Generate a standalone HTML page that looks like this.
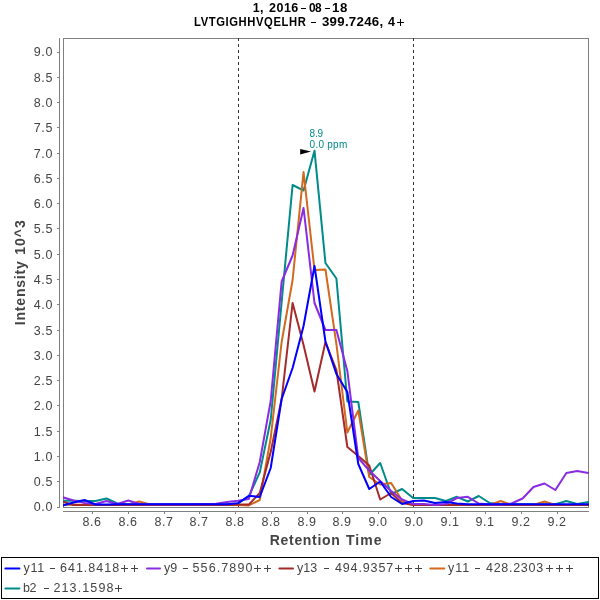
<!DOCTYPE html>
<html><head><meta charset="utf-8"><style>
html,body{margin:0;padding:0;background:#fff;width:600px;height:600px;overflow:hidden;}
svg{display:block;will-change:transform;}
</style></head><body>
<svg width="600" height="600" viewBox="0 0 600 600"><style>text{font-family:"Liberation Sans", sans-serif;}</style><rect x="63.5" y="38.5" width="525" height="469" fill="none" stroke="#808080" stroke-width="1" shape-rendering="crispEdges"/><g stroke="#333" stroke-width="1" stroke-dasharray="3 3" shape-rendering="crispEdges"><line x1="238.5" y1="38" x2="238.5" y2="507"/><line x1="413.5" y1="38" x2="413.5" y2="507"/></g><defs><clipPath id="c"><rect x="63" y="38" width="526" height="470"/></clipPath></defs><g clip-path="url(#c)" fill="none" stroke-width="2" stroke-linejoin="round" stroke-linecap="round"><polyline stroke="#008b8b" points="51.70,500.00 62.65,500.70 73.60,500.70 84.55,501.00 95.50,501.00 106.45,498.50 117.40,503.50 128.35,504.30 139.30,504.30 150.25,504.30 161.20,504.30 172.15,504.30 183.10,504.30 194.05,504.30 205.00,504.30 215.95,504.30 226.90,504.30 237.85,503.50 248.80,496.50 259.75,472.40 270.70,420.00 281.65,302.00 292.60,185.00 303.55,190.50 314.50,150.70 325.45,263.00 336.40,278.50 347.35,401.50 358.30,402.00 369.25,475.00 380.20,463.00 391.15,494.00 402.10,489.00 413.05,498.00 424.00,498.00 434.95,498.00 445.90,501.00 456.85,496.80 467.80,501.50 478.75,496.00 489.70,503.00 500.65,504.30 511.60,504.30 522.55,504.30 533.50,504.30 544.45,504.30 555.40,504.30 566.35,501.00 577.30,504.00 588.25,502.00 599.20,502.00"/><polyline stroke="#d2691e" points="51.70,505.00 62.65,505.00 73.60,504.50 84.55,505.00 95.50,505.00 106.45,505.00 117.40,505.00 128.35,504.50 139.30,501.50 150.25,504.50 161.20,505.00 172.15,505.00 183.10,505.00 194.05,505.00 205.00,505.00 215.95,505.00 226.90,505.00 237.85,505.00 248.80,505.40 259.75,500.00 270.70,438.00 281.65,342.00 292.60,280.00 303.55,172.00 314.50,270.00 325.45,269.50 336.40,344.00 347.35,432.50 358.30,410.50 369.25,477.00 380.20,484.50 391.15,483.00 402.10,500.50 413.05,505.00 424.00,505.00 434.95,505.00 445.90,505.00 456.85,505.00 467.80,505.00 478.75,505.00 489.70,505.00 500.65,501.00 511.60,505.00 522.55,505.00 533.50,505.00 544.45,501.50 555.40,505.00 566.35,505.00 577.30,505.00 588.25,505.00 599.20,505.00"/><polyline stroke="#a52a2a" points="51.70,500.00 62.65,501.70 73.60,505.00 84.55,505.00 95.50,505.00 106.45,505.00 117.40,505.00 128.35,505.00 139.30,505.00 150.25,505.00 161.20,505.00 172.15,505.00 183.10,505.00 194.05,505.00 205.00,505.00 215.95,505.00 226.90,505.00 237.85,504.60 248.80,504.60 259.75,493.00 270.70,452.00 281.65,399.00 292.60,303.00 303.55,345.00 314.50,391.50 325.45,342.00 336.40,370.00 347.35,447.00 358.30,456.00 369.25,465.50 380.20,499.50 391.15,493.00 402.10,503.00 413.05,505.00 424.00,505.00 434.95,505.00 445.90,505.00 456.85,505.00 467.80,505.00 478.75,505.00 489.70,505.00 500.65,505.00 511.60,505.00 522.55,505.00 533.50,505.00 544.45,505.00 555.40,505.00 566.35,505.00 577.30,505.00 588.25,505.00 599.20,505.00"/><polyline stroke="#8a2be2" points="51.70,496.00 62.65,497.30 73.60,500.50 84.55,503.00 95.50,504.00 106.45,501.00 117.40,504.00 128.35,500.50 139.30,504.00 150.25,504.30 161.20,504.30 172.15,504.30 183.10,504.30 194.05,504.30 205.00,504.00 215.95,503.70 226.90,502.00 237.85,500.80 248.80,499.00 259.75,462.00 270.70,401.00 281.65,281.50 292.60,255.50 303.55,208.00 314.50,303.00 325.45,330.00 336.40,330.00 347.35,371.00 358.30,458.00 369.25,470.50 380.20,481.00 391.15,491.00 402.10,499.50 413.05,504.00 424.00,504.00 434.95,505.00 445.90,504.00 456.85,498.00 467.80,496.80 478.75,503.50 489.70,504.50 500.65,504.50 511.60,503.50 522.55,498.50 533.50,487.00 544.45,483.50 555.40,490.00 566.35,473.00 577.30,471.00 588.25,473.00 599.20,475.00"/><polyline stroke="#0000ff" points="51.70,506.00 62.65,505.50 73.60,502.50 84.55,500.00 95.50,504.50 106.45,504.50 117.40,504.30 128.35,504.30 139.30,504.30 150.25,504.30 161.20,504.30 172.15,504.30 183.10,504.30 194.05,504.30 205.00,504.30 215.95,504.30 226.90,504.30 237.85,503.30 248.80,495.80 259.75,497.00 270.70,468.00 281.65,399.00 292.60,368.00 303.55,326.00 314.50,266.00 325.45,341.50 336.40,374.00 347.35,392.00 358.30,464.00 369.25,489.00 380.20,481.50 391.15,497.00 402.10,504.00 413.05,501.00 424.00,500.50 434.95,503.00 445.90,502.00 456.85,503.50 467.80,504.30 478.75,504.30 489.70,504.30 500.65,504.30 511.60,504.30 522.55,504.30 533.50,504.30 544.45,504.30 555.40,504.30 566.35,504.30 577.30,504.30 588.25,504.30 599.20,504.30"/></g><g stroke="#808080" stroke-width="1" shape-rendering="crispEdges"><line x1="59.5" y1="38" x2="59.5" y2="508"/><line x1="57" y1="507.5" x2="59" y2="507.5"/><line x1="57" y1="481.5" x2="59" y2="481.5"/><line x1="57" y1="456.5" x2="59" y2="456.5"/><line x1="57" y1="431.5" x2="59" y2="431.5"/><line x1="57" y1="405.5" x2="59" y2="405.5"/><line x1="57" y1="380.5" x2="59" y2="380.5"/><line x1="57" y1="355.5" x2="59" y2="355.5"/><line x1="57" y1="330.5" x2="59" y2="330.5"/><line x1="57" y1="304.5" x2="59" y2="304.5"/><line x1="57" y1="279.5" x2="59" y2="279.5"/><line x1="57" y1="254.5" x2="59" y2="254.5"/><line x1="57" y1="228.5" x2="59" y2="228.5"/><line x1="57" y1="203.5" x2="59" y2="203.5"/><line x1="57" y1="178.5" x2="59" y2="178.5"/><line x1="57" y1="153.5" x2="59" y2="153.5"/><line x1="57" y1="127.5" x2="59" y2="127.5"/><line x1="57" y1="102.5" x2="59" y2="102.5"/><line x1="57" y1="77.5" x2="59" y2="77.5"/><line x1="57" y1="52.5" x2="59" y2="52.5"/><line x1="63" y1="511.5" x2="589" y2="511.5"/><line x1="92.5" y1="512" x2="92.5" y2="514"/><line x1="128.5" y1="512" x2="128.5" y2="514"/><line x1="164.5" y1="512" x2="164.5" y2="514"/><line x1="199.5" y1="512" x2="199.5" y2="514"/><line x1="235.5" y1="512" x2="235.5" y2="514"/><line x1="271.5" y1="512" x2="271.5" y2="514"/><line x1="307.5" y1="512" x2="307.5" y2="514"/><line x1="342.5" y1="512" x2="342.5" y2="514"/><line x1="378.5" y1="512" x2="378.5" y2="514"/><line x1="414.5" y1="512" x2="414.5" y2="514"/><line x1="450.5" y1="512" x2="450.5" y2="514"/><line x1="485.5" y1="512" x2="485.5" y2="514"/><line x1="521.5" y1="512" x2="521.5" y2="514"/><line x1="557.5" y1="512" x2="557.5" y2="514"/></g><text x="252.75" y="12" font-size="12.5" font-weight="bold" fill="#000" textLength="10.69" lengthAdjust="spacing">1,</text><text x="269.00" y="12" font-size="12.5" font-weight="bold" fill="#000" textLength="29.31" lengthAdjust="spacing">2016</text><text transform="scale(0.95,1)" x="325.26" y="12" font-size="12.5" font-weight="bold" fill="#000" textLength="13.27" lengthAdjust="spacing">08</text><text transform="scale(1.06,1)" x="313.15" y="12" font-size="12.5" font-weight="bold" fill="#000" textLength="14.49" lengthAdjust="spacing">18</text><text transform="scale(0.9,1)" x="215.67" y="26" font-size="12.5" font-weight="bold" fill="#000" textLength="124.08" lengthAdjust="spacing">LVTGIGHHVQELHR</text><text transform="scale(1.06,1)" x="303.72" y="26" font-size="12.5" font-weight="bold" fill="#000" textLength="57.74" lengthAdjust="spacing">399.7246,</text><text x="388.00" y="25.5" font-size="12.5" font-weight="bold" fill="#000" textLength="6.95" lengthAdjust="spacing">4</text><text x="33.70" y="511" font-size="12.5" font-weight="normal" fill="#444" textLength="18.79" lengthAdjust="spacing">0.0</text><text x="33.70" y="486" font-size="12.5" font-weight="normal" fill="#444" textLength="18.79" lengthAdjust="spacing">0.5</text><text x="33.70" y="461" font-size="12.5" font-weight="normal" fill="#444" textLength="18.79" lengthAdjust="spacing">1.0</text><text x="33.70" y="436" font-size="12.5" font-weight="normal" fill="#444" textLength="18.79" lengthAdjust="spacing">1.5</text><text x="33.70" y="410" font-size="12.5" font-weight="normal" fill="#444" textLength="18.79" lengthAdjust="spacing">2.0</text><text x="33.70" y="385" font-size="12.5" font-weight="normal" fill="#444" textLength="18.79" lengthAdjust="spacing">2.5</text><text x="33.70" y="360" font-size="12.5" font-weight="normal" fill="#444" textLength="18.79" lengthAdjust="spacing">3.0</text><text x="33.70" y="335" font-size="12.5" font-weight="normal" fill="#444" textLength="18.79" lengthAdjust="spacing">3.5</text><text x="33.70" y="309" font-size="12.5" font-weight="normal" fill="#444" textLength="18.79" lengthAdjust="spacing">4.0</text><text x="33.70" y="284" font-size="12.5" font-weight="normal" fill="#444" textLength="18.79" lengthAdjust="spacing">4.5</text><text x="33.70" y="259" font-size="12.5" font-weight="normal" fill="#444" textLength="18.79" lengthAdjust="spacing">5.0</text><text x="33.70" y="233" font-size="12.5" font-weight="normal" fill="#444" textLength="18.79" lengthAdjust="spacing">5.5</text><text x="33.70" y="208" font-size="12.5" font-weight="normal" fill="#444" textLength="18.79" lengthAdjust="spacing">6.0</text><text x="33.70" y="183" font-size="12.5" font-weight="normal" fill="#444" textLength="18.79" lengthAdjust="spacing">6.5</text><text x="33.70" y="158" font-size="12.5" font-weight="normal" fill="#444" textLength="18.79" lengthAdjust="spacing">7.0</text><text x="33.70" y="132" font-size="12.5" font-weight="normal" fill="#444" textLength="18.79" lengthAdjust="spacing">7.5</text><text x="33.70" y="107" font-size="12.5" font-weight="normal" fill="#444" textLength="18.79" lengthAdjust="spacing">8.0</text><text x="33.70" y="82" font-size="12.5" font-weight="normal" fill="#444" textLength="18.79" lengthAdjust="spacing">8.5</text><text x="33.70" y="56" font-size="12.5" font-weight="normal" fill="#444" textLength="18.79" lengthAdjust="spacing">9.0</text><text x="82.60" y="525.5" font-size="12.5" font-weight="normal" fill="#444" textLength="18.39" lengthAdjust="spacing">8.6</text><text x="118.60" y="525.5" font-size="12.5" font-weight="normal" fill="#444" textLength="18.39" lengthAdjust="spacing">8.6</text><text x="154.60" y="525.5" font-size="12.5" font-weight="normal" fill="#444" textLength="18.39" lengthAdjust="spacing">8.7</text><text x="189.60" y="525.5" font-size="12.5" font-weight="normal" fill="#444" textLength="18.39" lengthAdjust="spacing">8.7</text><text x="225.60" y="525.5" font-size="12.5" font-weight="normal" fill="#444" textLength="18.39" lengthAdjust="spacing">8.8</text><text x="261.60" y="525.5" font-size="12.5" font-weight="normal" fill="#444" textLength="18.39" lengthAdjust="spacing">8.8</text><text x="297.60" y="525.5" font-size="12.5" font-weight="normal" fill="#444" textLength="18.39" lengthAdjust="spacing">8.9</text><text x="332.60" y="525.5" font-size="12.5" font-weight="normal" fill="#444" textLength="18.39" lengthAdjust="spacing">8.9</text><text x="368.60" y="525.5" font-size="12.5" font-weight="normal" fill="#444" textLength="18.39" lengthAdjust="spacing">9.0</text><text x="404.60" y="525.5" font-size="12.5" font-weight="normal" fill="#444" textLength="18.39" lengthAdjust="spacing">9.0</text><text x="440.60" y="525.5" font-size="12.5" font-weight="normal" fill="#444" textLength="18.39" lengthAdjust="spacing">9.1</text><text x="475.60" y="525.5" font-size="12.5" font-weight="normal" fill="#444" textLength="18.39" lengthAdjust="spacing">9.1</text><text x="511.60" y="525.5" font-size="12.5" font-weight="normal" fill="#444" textLength="18.39" lengthAdjust="spacing">9.2</text><text x="547.60" y="525.5" font-size="12.5" font-weight="normal" fill="#444" textLength="18.39" lengthAdjust="spacing">9.2</text><text x="269.80" y="545.2" font-size="14" font-weight="bold" fill="#444" textLength="69.96" lengthAdjust="spacing">Retention</text><text x="346.00" y="545.2" font-size="14" font-weight="bold" fill="#444" textLength="35.64" lengthAdjust="spacing">Time</text><text x="309.60" y="136.7" font-size="10" font-weight="normal" fill="#008b8b" textLength="13.51" lengthAdjust="spacing">8.9</text><text x="309.60" y="147.9" font-size="10" font-weight="normal" fill="#008b8b" textLength="37.64" lengthAdjust="spacing">0.0 ppm</text><text x="23.50" y="572" font-size="12.5" font-weight="normal" fill="#444" textLength="20.73" lengthAdjust="spacing">y11</text><text x="60.00" y="572" font-size="12.5" font-weight="normal" fill="#444" textLength="59.14" lengthAdjust="spacing">641.8418</text><text x="164.00" y="572" font-size="12.5" font-weight="normal" fill="#444" textLength="13.20" lengthAdjust="spacing">y9</text><text x="192.50" y="572" font-size="12.5" font-weight="normal" fill="#444" textLength="59.94" lengthAdjust="spacing">556.7890</text><text x="297.00" y="572" font-size="12.5" font-weight="normal" fill="#444" textLength="20.16" lengthAdjust="spacing">y13</text><text x="335.00" y="572" font-size="12.5" font-weight="normal" fill="#444" textLength="58.14" lengthAdjust="spacing">494.9357</text><text x="448.00" y="572" font-size="12.5" font-weight="normal" fill="#444" textLength="21.23" lengthAdjust="spacing">y11</text><text x="486.00" y="572" font-size="12.5" font-weight="normal" fill="#444" textLength="57.14" lengthAdjust="spacing">428.2303</text><text x="23.00" y="592" font-size="12.5" font-weight="normal" fill="#444" textLength="13.41" lengthAdjust="spacing">b2</text><text x="53.50" y="592" font-size="12.5" font-weight="normal" fill="#444" textLength="59.89" lengthAdjust="spacing">213.1598</text><text transform="translate(25,324.2) rotate(-90)" x="-1.00" y="0" font-size="14" font-weight="bold" fill="#444" textLength="63.98" lengthAdjust="spacing">Intensity</text><text transform="translate(25,253.75) rotate(-90)" x="-1.00" y="0" font-size="14" font-weight="bold" fill="#444" textLength="34.60" lengthAdjust="spacing">10^3</text><rect x="301" y="8" width="5" height="1" fill="#000" shape-rendering="crispEdges"/><rect x="325" y="8" width="5" height="1" fill="#000" shape-rendering="crispEdges"/><rect x="311" y="22" width="5" height="1" fill="#000" shape-rendering="crispEdges"/><rect x="397" y="22" width="7" height="1" fill="#000" shape-rendering="crispEdges"/><rect x="400" y="19" width="1" height="7" fill="#000" shape-rendering="crispEdges"/><rect x="50" y="568" width="5" height="1" fill="#444" shape-rendering="crispEdges"/><rect x="121" y="568" width="7" height="1" fill="#444" shape-rendering="crispEdges"/><rect x="124" y="565" width="1" height="7" fill="#444" shape-rendering="crispEdges"/><rect x="131" y="568" width="7" height="1" fill="#444" shape-rendering="crispEdges"/><rect x="134" y="565" width="1" height="7" fill="#444" shape-rendering="crispEdges"/><rect x="183" y="568" width="5" height="1" fill="#444" shape-rendering="crispEdges"/><rect x="254" y="568" width="7" height="1" fill="#444" shape-rendering="crispEdges"/><rect x="257" y="565" width="1" height="7" fill="#444" shape-rendering="crispEdges"/><rect x="264" y="568" width="7" height="1" fill="#444" shape-rendering="crispEdges"/><rect x="267" y="565" width="1" height="7" fill="#444" shape-rendering="crispEdges"/><rect x="324" y="568" width="5" height="1" fill="#444" shape-rendering="crispEdges"/><rect x="395" y="568" width="7" height="1" fill="#444" shape-rendering="crispEdges"/><rect x="398" y="565" width="1" height="7" fill="#444" shape-rendering="crispEdges"/><rect x="405" y="568" width="7" height="1" fill="#444" shape-rendering="crispEdges"/><rect x="408" y="565" width="1" height="7" fill="#444" shape-rendering="crispEdges"/><rect x="415" y="568" width="7" height="1" fill="#444" shape-rendering="crispEdges"/><rect x="418" y="565" width="1" height="7" fill="#444" shape-rendering="crispEdges"/><rect x="475" y="568" width="5" height="1" fill="#444" shape-rendering="crispEdges"/><rect x="546" y="568" width="7" height="1" fill="#444" shape-rendering="crispEdges"/><rect x="549" y="565" width="1" height="7" fill="#444" shape-rendering="crispEdges"/><rect x="556" y="568" width="7" height="1" fill="#444" shape-rendering="crispEdges"/><rect x="559" y="565" width="1" height="7" fill="#444" shape-rendering="crispEdges"/><rect x="566" y="568" width="7" height="1" fill="#444" shape-rendering="crispEdges"/><rect x="569" y="565" width="1" height="7" fill="#444" shape-rendering="crispEdges"/><rect x="44" y="588" width="5" height="1" fill="#444" shape-rendering="crispEdges"/><rect x="115" y="588" width="7" height="1" fill="#444" shape-rendering="crispEdges"/><rect x="118" y="585" width="1" height="7" fill="#444" shape-rendering="crispEdges"/><path d="M300.2,149 L311,151.5 L300.2,154.6 Z" fill="#000"/><rect x="1.5" y="557.5" width="597" height="41" fill="none" stroke="#000" stroke-width="1" shape-rendering="crispEdges"/><line x1="5.4" y1="568.5" x2="19.4" y2="568.5" stroke="#0000ff" stroke-width="2" stroke-linecap="round"/><line x1="147" y1="568.5" x2="160" y2="568.5" stroke="#8a2be2" stroke-width="2" stroke-linecap="round"/><line x1="279.4" y1="568.5" x2="293" y2="568.5" stroke="#a52a2a" stroke-width="2" stroke-linecap="round"/><line x1="430.3" y1="568.5" x2="444.3" y2="568.5" stroke="#d2691e" stroke-width="2" stroke-linecap="round"/><line x1="5.4" y1="588.5" x2="19.4" y2="588.5" stroke="#008b8b" stroke-width="2" stroke-linecap="round"/></svg>
</body></html>
